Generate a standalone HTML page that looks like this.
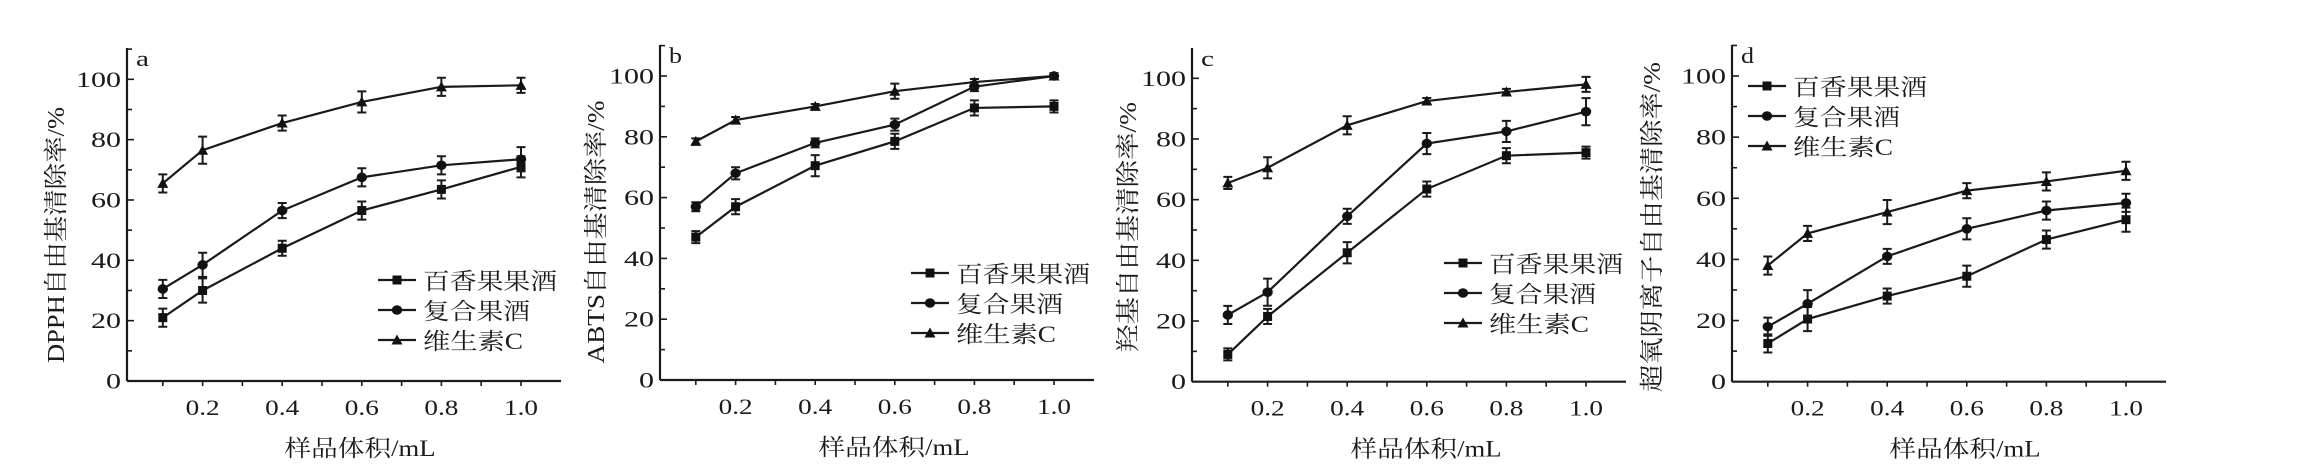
<!DOCTYPE html>
<html><head><meta charset="utf-8"><style>
html,body{margin:0;padding:0;background:#fff;}
svg{display:block;}
text{font-family:"Liberation Serif","Noto Serif CJK SC","Noto Sans CJK SC",serif;fill:#1a1a1a;}
</style></head><body>
<svg id="s" width="2321" height="472" xmlns="http://www.w3.org/2000/svg"></svg>
<script>
const S=document.getElementById('s');
let h='';
const P=[
 {ax:127,top:48,y0:381,y100:79.3,lab:'a',yt:'DPPH自由基清除率/%',ytx:55,yty:235,ytl:256,xtc:360,lg:[378,280],
  d:[[21,30,44,56.5,63.5,71],[30.5,38.5,56.5,67.5,71.5,73.5],[65.5,76.5,85.5,92.5,97.5,98]],
  e:[[3,4,2.5,3,3,3.5],[3,4,2.5,3,3,4],[3,4.5,2.5,3.5,3,2.5]]},
 {ax:660,top:45,y0:380,y100:76,lab:'b',yt:'ABTS自由基清除率/%',ytx:595,yty:232,ytl:263,xtc:894,lg:[911,273],
  d:[[47,57,70.5,78.5,89.5,90],[57,68,78,84,96.5,100],[78.5,85.5,90,95,98,100]],
  e:[[2,2.5,3.5,2.5,2.5,2],[1.5,2,1.5,2,1.5,1],[1,1,0.8,2.5,1,1]]},
 {ax:1192,top:48,y0:381.7,y100:78.3,lab:'c',yt:'羟基自由基清除率/%',ytx:1127,yty:227,ytl:250,xtc:1426,lg:[1444,263],
  d:[[9,21.5,42.5,63.5,74.5,75.5],[22,29.5,54.5,78.5,82.5,89],[65.5,70.5,84.5,92.5,95.5,98]],
  e:[[2,2.5,3.5,2.5,2.5,2],[3,4.5,2.5,3.5,3.5,4.5],[2,3.5,3,1,1,2.5]]},
 {ax:1732,top:45,y0:381.7,y100:76,lab:'d',yt:'超氧阴离子自由基清除率/%',ytx:1651,yty:227,ytl:330,xtc:1965,lg:[1748,86],
  d:[[12.5,20.5,28,34.5,46.5,53],[18,25.5,41,50,56,58.5],[38,48.5,55.5,62.5,65.5,69]],
  e:[[3,4,2.5,3.5,3,4],[3,4.5,2.5,3.5,3,3],[3,2.5,4,2.5,3,3]]}
];
const xs=[0.1,0.2,0.4,0.6,0.8,1.0];
function mk(t,x,y){
 if(t==0) return `<rect x="${x-4.5}" y="${y-4.5}" width="9" height="9" fill="#111"/>`;
 if(t==1) return `<ellipse cx="${x}" cy="${y}" rx="5.2" ry="4.8" fill="#111"/>`;
 return `<polygon points="${x-5.5},${y+4.5} ${x+5.5},${y+4.5} ${x},${y-5.5}" fill="#111"/>`;
}
const names=['百香果果酒','复合果酒','维生素C'],nl=[134,107,100];
for(const p of P){
 const X=v=>p.ax-4+v*398, Y=v=>p.y0-(p.y0-p.y100)*v/100;
 h+=`<line x1="${p.ax}" y1="${p.top}" x2="${p.ax}" y2="${p.y0}" stroke="#1a1a1a" stroke-width="2.2"/>`;
 h+=`<line x1="${p.ax}" y1="${p.y0}" x2="${p.ax+434}" y2="${p.y0}" stroke="#1a1a1a" stroke-width="2.2"/>`;
 for(let v=0;v<=110;v+=10){const y=Y(v);if(y<p.top)break;
  h+=`<line x1="${p.ax}" y1="${y}" x2="${p.ax+(v%20==0?7:5)}" y2="${y}" stroke="#1a1a1a" stroke-width="1.6"/>`;
  if(v%20==0){const s=String(v);h+=`<text x="${p.ax-6}" y="${y+7.5}" font-size="22" text-anchor="end" textLength="${s.length*15}" lengthAdjust="spacingAndGlyphs">${s}</text>`;}}
 for(let i=1;i<=10;i++){const x=X(i/10);
  h+=`<line x1="${x}" y1="${p.y0}" x2="${x}" y2="${p.y0+5}" stroke="#1a1a1a" stroke-width="1.6"/>`;
  if(i%2==0){const s=(i/10).toFixed(1);h+=`<text x="${x}" y="${p.y0+34}" font-size="22" text-anchor="middle" textLength="34" lengthAdjust="spacingAndGlyphs">${s}</text>`;}}
 h+=`<text x="${p.ax+9}" y="${p.top+18}" font-size="22" textLength="13" lengthAdjust="spacingAndGlyphs">${p.lab}</text>`;
 h+=`<text x="${p.xtc}" y="${p.y0+75}" font-size="23" text-anchor="middle" textLength="151" lengthAdjust="spacingAndGlyphs">样品体积/mL</text>`;
 h+=`<text transform="translate(${p.ytx+9},${p.yty}) rotate(-90)" font-size="24" text-anchor="middle" textLength="${p.ytl}" lengthAdjust="spacingAndGlyphs">${p.yt}</text>`;
 for(let t=0;t<3;t++){
  const pts=xs.map((x,i)=>`${X(x)},${Y(p.d[t][i])}`).join(' ');
  h+=`<polyline points="${pts}" fill="none" stroke="#1a1a1a" stroke-width="2.2"/>`;
  xs.forEach((x,i)=>{const cx=X(x),e=p.e[t][i]*3.02,cy=Y(p.d[t][i]);
   h+=`<path d="M${cx},${cy-e}V${cy+e}M${cx-4.5},${cy-e}H${cx+4.5}M${cx-4.5},${cy+e}H${cx+4.5}" stroke="#1a1a1a" stroke-width="2" fill="none"/>`;
   h+=mk(t,cx,cy);});
  const ly=p.lg[1]+t*30,lx=p.lg[0];
  h+=`<line x1="${lx}" y1="${ly}" x2="${lx+38}" y2="${ly}" stroke="#1a1a1a" stroke-width="2.2"/>`+mk(t,lx+19,ly);
  h+=`<text x="${lx+45}" y="${ly+9}" font-size="23" textLength="${nl[t]}" lengthAdjust="spacingAndGlyphs">${names[t]}</text>`;
 }
}
S.innerHTML=h;
</script>
</body></html>
